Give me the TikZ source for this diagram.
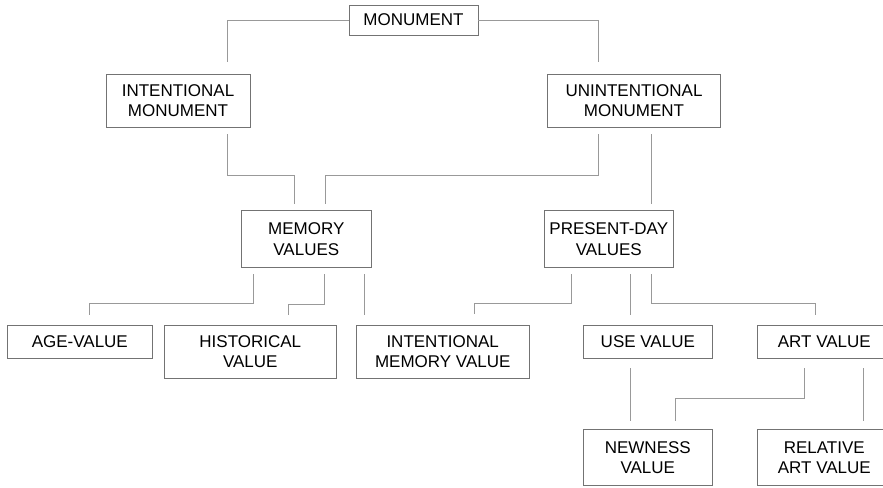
\documentclass[tikz,border=0pt]{standalone}
\usepackage{fontspec}
\setmainfont{Liberation Sans}
\usepackage{tikz}
\usetikzlibrary{calc,positioning}

\begin{document}
\begin{tikzpicture}[x=1pt,y=-1pt,
    valbox/.style={draw=black!55, line width=0.9pt, align=center,
      inner sep=0pt, font=\fontsize{17}{20.3}\selectfont},
    link/.style={draw=black!40, line width=0.9pt}
  ]
  \useasboundingbox (0,0) rectangle (883,487);
  \clip (0,0) rectangle (883,487);
  % boxes
  \node[valbox, minimum width=129pt, minimum height=30pt] (mon) at (413.5,20) {MONUMENT};
  \node[valbox, minimum width=144pt, minimum height=53pt] (intm) at (178,100.8) {INTENTIONAL\\MONUMENT};
  \node[valbox, minimum width=172.6pt, minimum height=53pt] (unim) at (634,100.8) {UNINTENTIONAL\\MONUMENT};
  \node[valbox, minimum width=129.3pt, minimum height=56.6pt] (mem) at (306.3,239) {MEMORY\\VALUES};
  \node[valbox, minimum width=129pt, minimum height=56.6pt] (pres) at (608.8,239) {PRESENT-DAY\\VALUES};
  \node[valbox, minimum width=145pt, minimum height=33pt] (age) at (79.8,341.8) {AGE-VALUE};
  \node[valbox, minimum width=172.7pt, minimum height=53pt] (hist) at (250.3,351.8) {HISTORICAL\\VALUE};
  \node[valbox, minimum width=172.7pt, minimum height=53pt] (intmem) at (442.7,351.8) {INTENTIONAL\\MEMORY VALUE};
  \node[valbox, minimum width=129.7pt, minimum height=33pt] (use) at (647.8,341.8) {USE VALUE};
  \node[valbox, minimum width=133pt, minimum height=33pt] (art) at (824.3,341.8) {ART VALUE};
  \node[valbox, minimum width=129.7pt, minimum height=56.4pt] (new) at (647.8,457.5) {NEWNESS\\VALUE};
  \node[valbox, minimum width=133pt, minimum height=56.4pt] (rel) at (824.3,457.5) {RELATIVE\\ART VALUE};

  % connectors
  \draw[link] (mon.west) -| ($(intm.north)+(49.7,-12.3)$);
  \draw[link] (mon.east) -| ($(unim.north)+(-35.3,-12.3)$);
  \draw[link] ($(intm.south)+(49,6.4)$) -- ++(0,40.8) -| ($(mem.north)+(-11.6,-6.4)$);
  \draw[link] ($(unim.south)+(-35.3,6.4)$) -- ++(0,41) -| ($(mem.north)+(19,-6.4)$);
  \draw[link] ($(unim.south)+(17.3,6.4)$) -- ($(pres.north)+(42.5,-6.4)$);
  \draw[link] ($(mem.south)+(-53.3,6.7)$) -- ++(0,29.3) -| ($(age.north)+(9.5,-9.6)$);
  \draw[link] ($(mem.south)+(18.4,6.7)$) -- ++(0,30.3) -| ($(hist.north)+(38.4,-9.6)$);
  \draw[link] ($(mem.south)+(58,6.7)$) -- ($(intmem.north)+(-78.4,-9.6)$);
  \draw[link] ($(pres.south)+(-37.5,6.7)$) -- ++(0,29.3) -| ($(intmem.north)+(32,-11.3)$);
  \draw[link] ($(pres.south)+(21.5,6.7)$) -- ($(use.north)+(-17.5,-9.6)$);
  \draw[link] ($(pres.south)+(42.5,6.7)$) -- ++(0,29.3) -| ($(art.north)+(-9,-9.6)$);
  \draw[link] ($(use.south)+(-17.5,9.7)$) -- ($(new.north)+(-17.5,-7.6)$);
  \draw[link] ($(art.south)+(-20.3,9.7)$) -- ++(0,30) -| ($(new.north)+(27.2,-7.6)$);
  \draw[link] ($(art.south)+(38.7,9.7)$) -- ($(rel.north)+(38.7,-7.6)$);
\end{tikzpicture}
\end{document}
